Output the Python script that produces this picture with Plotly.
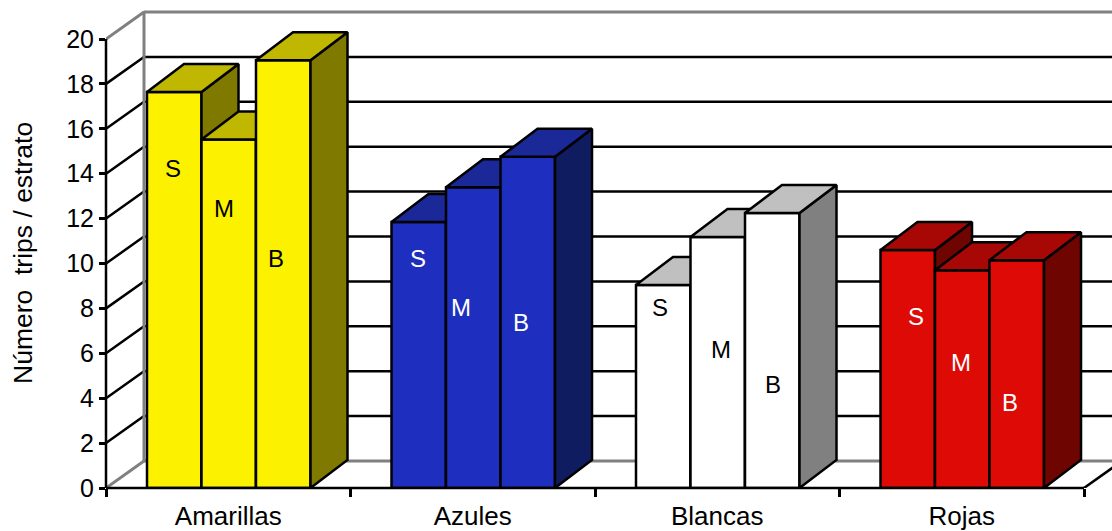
import plotly.graph_objects as go

# Trips per stratum (S, M, B) for each trap colour
categories = ["Amarillas", "Azules", "Blancas", "Rojas"]
strata = ["S", "M", "B"]
values_s = [17.64, 11.85, 9.04, 10.6]
values_m = [15.52, 13.4, 11.18, 9.7]
values_b = [19.05, 14.75, 12.25, 10.15]
y_ticks = list(range(0, 21, 2))
y_title = "Número  trips / estrato"

# Stratum letters, placed by hand inside the columns
label_x = [[0.274, 0.483, 0.695], [1.276, 1.452, 1.697], [2.266, 2.515, 2.728], [3.313, 3.497, 3.697]]
label_y = [[14.25, 12.47, 10.24], [10.24, 8.06, 7.39], [8.02, 6.19, 4.59], [7.62, 5.61, 3.79]]
label_color = ["black", "white", "black", "white"]

# Face colours per category: front, top, side
front = ["#FCF200", "#1E2EBE", "#FFFFFF", "#DE0A05"]
top = ["#BFB700", "#1A2898", "#C0C0C0", "#A80805"]
side = ["#7F7900", "#101C60", "#808080", "#6E0500"]

W, H = 1112, 531
LEFT, BOTTOM = 106, 43
PX_X, PX_Y = 244.5, 22.45
X_MAX = (W - LEFT) / PX_X
Y_MAX = (H - BOTTOM) / PX_Y

WALL_DX, WALL_DY = 38 / PX_X, 27 / PX_Y
BAR_DX, BAR_DY = 37 / PX_X, 28 / PX_Y
BAR_W = 54.5 / PX_X
BAR_START = 41 / PX_X
LW = 2.5

fig = go.Figure()


def line(xs, ys, color="black", width=LW):
    fig.add_trace(go.Scatter(x=xs, y=ys, mode="lines", hoverinfo="skip",
                             line=dict(color=color, width=width)))


# Gridlines on the side wall and back wall
for v in y_ticks[1:-1]:
    line([0, WALL_DX, X_MAX], [v, v + WALL_DY, v + WALL_DY])

# Wall and floor outline
wx, wy = WALL_DX, WALL_DY
line([0, wx, wx, X_MAX], [20, 20 + wy, wy, wy], "#808080", 3)
line([wx, X_MAX], [20 + wy, 20 + wy], "#808080", 3)
line([0, wx], [0, wy], "#808080", 3)
line([4, 4 + wx], [0, wy])

# Columns: side and top polygons plus a front bar, one layer per stratum
series = [values_s, values_m, values_b]
for s, vals in enumerate(series):
    z = s + 1
    xs = [c + BAR_START + BAR_W * (s + 0.5) for c in range(len(categories))]
    for c, v in enumerate(vals):
        x0 = xs[c] - BAR_W / 2
        x1 = xs[c] + BAR_W / 2
        fig.add_trace(go.Scatter(
            x=[x1, x1 + BAR_DX, x1 + BAR_DX, x1, x1],
            y=[0, BAR_DY, v + BAR_DY, v, 0],
            mode="lines", fill="toself", fillcolor=side[c], zorder=z, hoverinfo="skip",
            line=dict(color="black", width=LW)))
        fig.add_trace(go.Scatter(
            x=[x0, x1, x1 + BAR_DX, x0 + BAR_DX, x0],
            y=[v, v, v + BAR_DY, v + BAR_DY, v],
            mode="lines", fill="toself", fillcolor=top[c], zorder=z, hoverinfo="skip",
            line=dict(color="black", width=LW)))
    fig.add_trace(go.Bar(x=xs, y=vals, width=BAR_W, zorder=z, name=strata[s],
                         marker=dict(color=front, line=dict(color="black", width=LW))))

# Ticks and tick labels live on a second pair of axes that stop at the last tick
fig.add_trace(go.Scatter(x=[0, 4], y=[0, 20], xaxis="x2", yaxis="y2", mode="markers",
                         marker=dict(opacity=0), hoverinfo="skip"))

annotations = []
for c in range(len(categories)):
    for s, letter in enumerate(strata):
        annotations.append(dict(x=label_x[c][s], y=label_y[c][s], xref="x", yref="y",
                                text=letter, showarrow=False,
                                font=dict(color=label_color[c], size=24)))
annotations.append(dict(x=(23 - LEFT) / (W - LEFT), y=(H - BOTTOM - 253) / (H - BOTTOM),
                        xref="paper", yref="paper", xanchor="center", yanchor="middle",
                        text=y_title, textangle=-90, showarrow=False,
                        font=dict(color="black", size=26.5)))

x_dom = 4 * PX_X / (W - LEFT)
y_dom = 20 * PX_Y / (H - BOTTOM)

# Axis lines, unclipped at the subplot edge
axis_lines = [
    dict(type="line", xref="paper", yref="paper", x0=0, x1=x_dom, y0=0, y1=0,
         line=dict(color="black", width=LW), layer="above"),
    dict(type="line", xref="paper", yref="paper", x0=0, x1=0, y0=0, y1=y_dom,
         line=dict(color="black", width=LW), layer="above"),
]

fig.update_layout(
    width=W, height=H, autosize=False,
    margin=dict(l=LEFT, r=0, t=0, b=BOTTOM, pad=0, autoexpand=False),
    paper_bgcolor="white", plot_bgcolor="rgba(0,0,0,0)",
    showlegend=False, barmode="overlay",
    font=dict(family="Liberation Sans", color="black", size=26),
    shapes=axis_lines,
    xaxis=dict(range=[0, X_MAX], visible=False, domain=[0, 1], fixedrange=True),
    yaxis=dict(range=[0, Y_MAX], visible=False, domain=[0, 1], fixedrange=True),
    xaxis2=dict(range=[0, 4], domain=[0, x_dom], anchor="y2",
                showgrid=False, zeroline=False, showline=False,
                tickmode="array", tickvals=[i + 0.5 for i in range(4)], ticktext=categories,
                ticks="", tickfont=dict(size=26, color="black"), ticklabelstandoff=10,
                minor=dict(tickmode="array", tickvals=[0, 1, 2, 3, 4], ticks="outside",
                           ticklen=8, tickwidth=LW, tickcolor="black", showgrid=False)),
    yaxis2=dict(range=[0, 20], domain=[0, y_dom], anchor="x2",
                showgrid=False, zeroline=False, showline=False,
                tickmode="array", tickvals=y_ticks, ticks="outside", ticklen=6,
                tickwidth=LW, tickcolor="black", tickfont=dict(size=25, color="black")),
    annotations=annotations,
)

fig.write_html("out.html", config={"displayModeBar": False})
